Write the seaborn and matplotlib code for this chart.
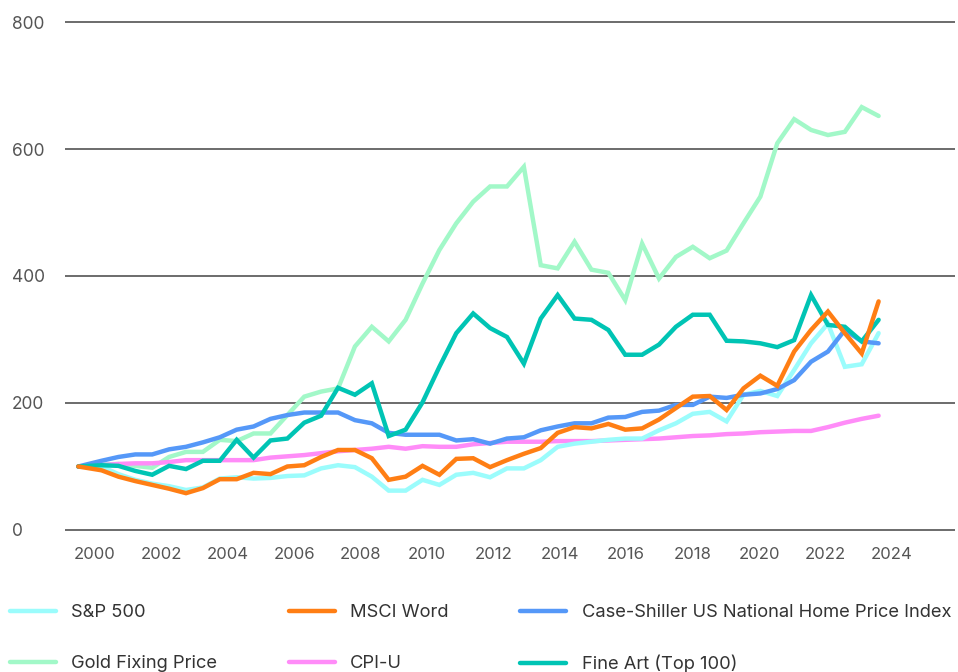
import numpy as np
import pandas as pd
import matplotlib.pyplot as plt
import seaborn as sns

# ── Data (index, start = 100) ─────────────────────────────────────────────────
YEARS = [1999.5] + list(np.linspace(2000.2, 2023.6, 47))

SP500 = [100, 100, 88, 79, 73, 69, 63, 67, 81, 83, 81, 82, 85, 86, 97, 102,
         99, 84, 62, 62, 79, 71, 87, 90, 83, 97, 97, 110, 131, 136, 139, 142,
         144, 144, 157, 168, 183, 186, 171, 213, 219, 211, 252, 294, 325, 257, 261, 310]
MSCI = [100, 94, 84, 77, 71, 65, 58, 66, 80, 80, 90, 88, 100, 102, 115, 126,
        126, 113, 79, 84, 101, 87, 112, 113, 99, 110, 120, 129, 153, 162, 160, 167,
        158, 160, 174, 192, 210, 211, 189, 223, 243, 227, 281, 315, 344, 310, 278, 360]
CASE_SHILLER = [100, 109, 115, 119, 119, 127, 131, 138, 146, 158, 163, 175, 181, 185, 185, 185,
                173, 168, 153, 150, 150, 150, 141, 143, 136, 144, 146, 157, 163, 168, 168, 177,
                178, 186, 188, 197, 197, 210, 208, 213, 215, 222, 236, 265, 281, 315, 297, 294]
GOLD = [100, 103, 104, 101, 98, 115, 123, 123, 142, 140, 152, 152, 181, 210, 218, 223,
        289, 320, 297, 331, 388, 441, 483, 517, 541, 541, 572, 417, 412, 454, 410, 405,
        362, 451, 396, 430, 446, 428, 440, 483, 525, 609, 647, 630, 622, 627, 666, 652]
CPI_U = [100, 102, 104, 105, 105, 107, 110, 110, 110, 110, 110, 114, 116, 118, 121, 124,
         126, 128, 131, 128, 132, 131, 131, 135, 137, 139, 139, 139, 140, 140, 140, 141,
         142, 143, 144, 146, 148, 149, 151, 152, 154, 155, 156, 156, 162, 169, 175, 180]
FINE_ART = [100, 102, 101, 93, 87, 101, 96, 109, 109, 142, 114, 141, 144, 169, 180, 224,
            213, 231, 148, 158, 201, 257, 310, 341, 318, 304, 262, 333, 370, 333, 331, 315,
            276, 276, 292, 320, 339, 339, 298, 297, 294, 288, 299, 370, 323, 320, 297, 331]

SERIES = {
    "S&P 500": SP500,
    "MSCI Word": MSCI,
    "Case-Shiller US National Home Price Index": CASE_SHILLER,
    "Gold Fixing Price": GOLD,
    "CPI-U": CPI_U,
    "Fine Art (Top 100)": FINE_ART,
}
COLORS = {
    "S&P 500": "#9BFCFC",
    "MSCI Word": "#FF7E14",
    "Case-Shiller US National Home Price Index": "#5598F8",
    "Gold Fixing Price": "#A2F8C8",
    "CPI-U": "#FF8CF8",
    "Fine Art (Top 100)": "#00C4B4",
}
DRAW_ORDER = ["Gold Fixing Price", "CPI-U", "S&P 500",
              "Case-Shiller US National Home Price Index", "Fine Art (Top 100)", "MSCI Word"]
LEGEND_ORDER = ["S&P 500", "Gold Fixing Price", "MSCI Word", "CPI-U",
                "Case-Shiller US National Home Price Index", "Fine Art (Top 100)"]

# ── Style ─────────────────────────────────────────────────────────────────────
sns.set_theme(style="white")
plt.rcParams["font.family"] = ["Inter", "DejaVu Sans"]

df = pd.DataFrame({"year": YEARS, **SERIES}).melt(
    id_vars="year", var_name="series", value_name="value")

fig = plt.figure(figsize=(9.58, 6.72), dpi=100)
ax = fig.add_axes([65 / 958, (672 - 531.9) / 672, 890 / 958, 511.8 / 672])

for name in DRAW_ORDER:
    sub = df[df["series"] == name]
    sns.lineplot(data=sub, x="year", y="value", color=COLORS[name], linewidth=3.2,
                 label=name, ax=ax, solid_joinstyle="miter")

ax.set_xlim(1999.1, 2025.9)
ax.set_ylim(-3, 803)
ax.set_xticks(range(2000, 2025, 2))
ax.set_yticks([0, 200, 400, 600, 800])
ax.set_xlabel("")
ax.set_ylabel("")
ax.grid(axis="y", color="#444444", linewidth=1.1)
ax.grid(axis="x", visible=False)
ax.set_axisbelow(True)
for s in ax.spines.values():
    s.set_visible(False)

ax.tick_params(axis="x", length=0, pad=11, labelsize=12, labelcolor="#555555")
ax.tick_params(axis="y", length=0, pad=38, labelsize=12.5, labelcolor="#555555")
for lab in ax.get_yticklabels():
    lab.set_horizontalalignment("left")

handles, labels = ax.get_legend_handles_labels()
hmap = dict(zip(labels, handles))
ax.get_legend().remove()
fig.legend([hmap[n] for n in LEGEND_ORDER], LEGEND_ORDER,
           loc="upper left", bbox_to_anchor=(10 / 958, 1 - 604 / 672),
           ncol=3, frameon=False, fontsize=13.2, labelcolor="#333333",
           handlelength=2.5, handletextpad=0.85, columnspacing=3.9,
           labelspacing=1.85, borderpad=0, borderaxespad=0)

fig.savefig("out.png", dpi=100)
